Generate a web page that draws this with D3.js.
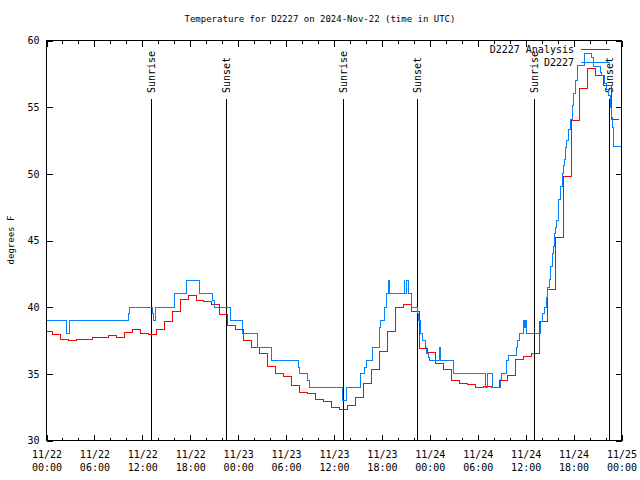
<!DOCTYPE html>
<html><head><meta charset="utf-8">
<script src="https://cdn.jsdelivr.net/npm/d3@7"></script>
<style>body{margin:0;background:#fff} svg{display:block;background:#fff} text{font-family:"DejaVu Sans Mono",monospace;fill:#000} line,path,rect{shape-rendering:crispEdges}</style>
</head><body><svg id="c" width="640" height="480"></svg>
<script>
// ---- data ----
const title = "Temperature for D2227 on 2024-Nov-22 (time in UTC)";
const yLabel = "degrees F";
const seriesNames = ["D2227 Analysis", "D2227"];
const startUTC = Date.UTC(2024, 10, 22, 0, 0);
const endUTC = Date.UTC(2024, 10, 25, 0, 0);
// hourly analysis values, first reading at 11/21 23:43 UTC
const analysisFirstHour = -0.28;
const analysisTemps = [38.2,37.95,37.55,37.5,37.55,37.55,37.75,37.75,37.9,37.7,38.1,38.3,38.05,37.95,38.3,38.9,39.7,40.55,40.9,40.5,40.4,40.2,39.45,38.6,38.3,37.5,37.0,36.5,35.55,35.0,34.8,34.1,33.6,33.5,33.05,32.9,32.45,32.3,32.6,33.2,34.3,35.3,36.7,38.2,40.0,40.2,39.7,36.9,36.6,35.8,35.3,34.5,34.3,34.2,34.0,34.05,34.0,34.5,34.9,36.1,36.3,36.55,38.9,41.3,45.2,49.8,54.0,56.4,57.9,57.4,56.6,54.05,54.05];
// station observations: hours since 11/22 00:00 UTC and temperature
const obsHours = [0,2.53,2.94,10.24,10.37,13.27,13.34,13.59,16.0,17.47,17.55,19.13,20.81,21.01,23.10,24.57,26.40,28.20,31.53,31.66,32.71,32.87,37.09,37.59,39.38,39.79,40.01,40.85,41.67,41.85,42.30,42.60,42.80,42.92,44.77,44.89,45.04,45.27,45.73,46.43,46.56,46.77,47.06,47.40,47.61,47.81,48.02,49.27,49.36,50.94,55.03,55.2,55.82,56.79,57.0,57.63,57.83,58.79,58.95,59.2,59.7,59.79,59.9,59.98,60.13,61.88,62.08,62.30,62.55,62.71,62.96,63.14,63.34,63.46,63.59,63.76,63.89,64.09,64.30,64.59,64.71,64.84,65.01,65.14,65.34,65.64,65.89,66.05,66.30,66.47,67.31,68.27,68.47,69.31,69.52,69.81,70.06,70.35,70.56,70.77,70.90,71.06,72];
const obsTemps = [39.0,38.0,39.0,39.5,40.0,39.5,39.0,40.0,41.0,41.8,42.0,41.0,40.5,40.0,39.0,38.0,37.0,36.0,35.5,35.0,34.5,34.0,33.0,34.0,35.0,35.5,36.0,37.0,38.5,39.0,40.0,41.0,42.0,41.0,42.0,41.0,42.0,41.0,40.0,39.5,39.0,38.0,37.5,37.0,36.5,36.25,36.0,37.0,36.0,35.0,34.0,35.0,34.0,34.6,35.0,36.0,36.4,37.0,37.5,38.0,38.5,39.0,38.5,39.0,38.0,38.9,39.5,40.0,40.7,41.5,42.05,43.05,44.0,44.55,45.5,46.0,46.5,48.05,49.05,50.0,50.6,51.05,52.0,52.5,53.3,54.05,55.1,56.0,57.0,58.1,59.05,58.7,58.05,57.6,57.4,56.75,56.3,55.9,55.0,54.25,53.5,52.05,52.0];
const sunriseHours = [13.05, 37.08, 61.08];
const sunsetHours = [22.53, 46.43, 70.47];
const yTicks = [30, 35, 40, 45, 50, 55, 60];

// ---- drawing ----
const H = 3600e3;
const toDate = h => new Date(startUTC + h * H);
const svg = d3.select("#c");
const L = 46.5, R = 621.5, T = 40.5, B = 440.5;
const x = d3.scaleUtc().domain([new Date(startUTC), new Date(endUTC)]).range([L, R]);
const y = d3.scaleLinear().domain([30, 60]).range([B, T]);

svg.append("rect").attr("width", 640).attr("height", 480).attr("fill", "#fff");
svg.append("text").attr("x", 320).attr("y", 19).attr("text-anchor", "middle")
  .attr("dominant-baseline", "central").style("font-size", "9px").text(title);

const majorX = d3.utcHour.every(6).range(new Date(startUTC), new Date(endUTC + 1));
const minorX = d3.utcHour.every(2).range(new Date(startUTC), new Date(endUTC + 1));

function styleAxis(g) { g.select(".domain").remove(); g.selectAll("line").attr("stroke", "#000"); }

// minor ticks bottom/top
svg.append("g").attr("transform", `translate(0,${B})`)
  .call(d3.axisBottom(x).tickValues(minorX).tickSize(-3).tickFormat(""))
  .call(styleAxis);
svg.append("g").attr("transform", `translate(0,${T})`)
  .call(d3.axisTop(x).tickValues(minorX).tickSize(-3).tickFormat(""))
  .call(styleAxis);
// major ticks bottom with labels
const fmtD = d3.utcFormat("%m/%d"), fmtT = d3.utcFormat("%H:%M");
const bx = svg.append("g").attr("transform", `translate(0,${B})`)
  .call(d3.axisBottom(x).tickValues(majorX).tickSize(-6).tickFormat(""))
  .call(styleAxis);
bx.selectAll(".tick").append("text").attr("text-anchor", "middle").style("font-size", "10px")
  .each(function(d) {
    const t = d3.select(this);
    t.append("tspan").attr("x", 0).attr("y", 17).text(fmtD(d));
    t.append("tspan").attr("x", 0).attr("y", 30).text(fmtT(d));
  });
svg.append("g").attr("transform", `translate(0,${T})`)
  .call(d3.axisTop(x).tickValues(majorX).tickSize(-6).tickFormat(""))
  .call(styleAxis);
// y axes
const ly = svg.append("g").attr("transform", `translate(${L},0)`)
  .call(d3.axisLeft(y).tickValues(yTicks).tickSize(-6).tickPadding(7).tickFormat(d3.format("d")))
  .call(styleAxis);
ly.selectAll("text").style("font-size", "10px").attr("fill", "#000");
svg.append("g").attr("transform", `translate(${R},0)`)
  .call(d3.axisRight(y).tickValues(yTicks).tickSize(-6).tickFormat(""))
  .call(styleAxis);

svg.append("text").attr("transform", `translate(11,240) rotate(-90)`).attr("text-anchor", "middle")
  .attr("dominant-baseline", "central").style("font-size", "9px").text(yLabel);

// sunrise / sunset
const events = sunriseHours.map(h => ({h, label: "Sunrise"}))
  .concat(sunsetHours.map(h => ({h, label: "Sunset"})));
events.forEach(e => {
  const ex = Math.round(x(toDate(e.h))) + 0.5;
  svg.append("line").attr("x1", ex).attr("x2", ex).attr("y1", 99).attr("y2", B).attr("stroke", "#000");
  svg.append("text").attr("transform", `translate(${ex},93) rotate(-90)`).attr("text-anchor", "start")
    .attr("dominant-baseline", "central").style("font-size", "10px").text(e.label);
});

// clip
svg.append("clipPath").attr("id", "clip").append("rect").attr("x", L).attr("y", T).attr("width", R - L).attr("height", B - T);

const line = d3.line().curve(d3.curveStepAfter).x(d => x(d[0])).y(d => y(d[1]));
const redData = analysisTemps.map((v, i) => [toDate(analysisFirstHour + i), v]);
const blueData = obsHours.map((h, i) => [toDate(h), obsTemps[i]]);
const gData = svg.append("g").attr("clip-path", "url(#clip)");
gData.append("path").attr("d", line(redData)).attr("fill", "none").attr("stroke", "#ff0000").attr("stroke-width", 1);
gData.append("path").attr("d", line(blueData)).attr("fill", "none").attr("stroke", "#0080ff").attr("stroke-width", 1);

// legend
const legendColors = ["#ff0000", "#0080ff"];
seriesNames.forEach((n, i) => {
  const ly2 = 49.5 + i * 13;
  svg.append("text").attr("x", 574).attr("y", ly2).attr("text-anchor", "end")
    .attr("dominant-baseline", "central").style("font-size", "10px").text(n);
  svg.append("line").attr("x1", 581).attr("x2", 610).attr("y1", ly2).attr("y2", ly2)
    .attr("stroke", legendColors[i]).attr("stroke-width", 1);
});

// frame
svg.append("rect").attr("x", L).attr("y", T).attr("width", R - L).attr("height", B - T)
  .attr("fill", "none").attr("stroke", "#000");
</script></body></html>
